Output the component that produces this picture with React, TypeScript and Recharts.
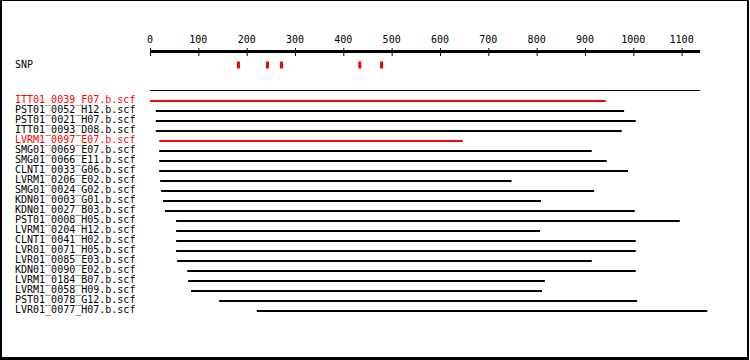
import { ScatterChart, Scatter, BarChart, Bar, Cell, XAxis, YAxis, ReferenceLine } from "recharts";

// sequence position axis
const POSITION_TICKS = [0, 100, 200, 300, 400, 500, 600, 700, 800, 900, 1000, 1100];
const AXIS_MAX = 1138;
const READS_X_MAX = 1160;

// SNP sites along the contig
const SNP_POSITIONS = [183, 243, 272, 434, 479];

// reads in the alignment
const READ_NAMES = [
  "ITT01_0039_F07.b.scf",
  "PST01_0052_H12.b.scf",
  "PST01_0021_H07.b.scf",
  "ITT01_0093_D08.b.scf",
  "LVRM1_0097_E07.b.scf",
  "SMG01_0069_E07.b.scf",
  "SMG01_0066_E11.b.scf",
  "CLNT1_0033_G06.b.scf",
  "LVRM1_0206_E02.b.scf",
  "SMG01_0024_G02.b.scf",
  "KDN01_0003_G01.b.scf",
  "KDN01_0027_B03.b.scf",
  "PST01_0008_H05.b.scf",
  "LVRM1_0204_H12.b.scf",
  "CLNT1_0041_H02.b.scf",
  "LVR01_0071_H05.b.scf",
  "LVR01_0085_E03.b.scf",
  "KDN01_0090_E02.b.scf",
  "LVRM1_0184_B07.b.scf",
  "LVRM1_0058_H09.b.scf",
  "PST01_0078_G12.b.scf",
  "LVR01_0077_H07.b.scf",
];
const READ_STARTS = [0, 12, 12, 12, 19, 19, 19, 19, 21, 23, 27, 31, 54, 54, 54, 54, 56, 77, 79, 85, 143, 221];
const READ_ENDS = [943, 981, 1005, 976, 647, 914, 945, 989, 748, 919, 809, 1003, 1096, 807, 1005, 1005, 914, 1005, 817, 811, 1008, 1153];
const HIGHLIGHTED_READS = ["ITT01_0039_F07.b.scf", "LVRM1_0097_E07.b.scf"];

const FONT = "'DejaVu Sans Mono', monospace";
const RED = "#ff0000";
const LABEL_X = 15;
const PLOT_LEFT = 150;
const PLOT_RIGHT = 700;
const PX_PER_UNIT = (PLOT_RIGHT - PLOT_LEFT) / AXIS_MAX;
const readsRight = PLOT_LEFT + READS_X_MAX * PX_PER_UNIT;

const snpData = SNP_POSITIONS.map((pos) => ({ pos, track: 13.5 }));
const readRows = READ_NAMES.map((name, i) => ({
  name,
  span: [READ_STARTS[i], READ_ENDS[i]],
  highlighted: HIGHLIGHTED_READS.includes(name),
}));

function PositionTick(props: any) {
  const { x, y, payload } = props;
  return (
    <g>
      <line x1={x + 0.5} x2={x + 0.5} y1={y - 3.5} y2={y + 4.5} stroke="#000" strokeWidth={1} />
      <text x={x} y={y - 8.5} textAnchor="middle" fontFamily={FONT} fontSize={10} fill="#000">
        {payload.value}
      </text>
    </g>
  );
}

function SnpLabel(props: any) {
  return (
    <text x={LABEL_X} y={props.y} dy={3} fontFamily={FONT} fontSize={10} fill="#000">
      SNP
    </text>
  );
}

function SnpMark(props: any) {
  const { cx, cy } = props;
  return <rect x={cx - 1.5} y={cy - 3.5} width={3} height={7} fill={RED} />;
}

function ReadLabel(props: any) {
  const { y, payload } = props;
  const hl = HIGHLIGHTED_READS.includes(payload.value);
  return (
    <text x={LABEL_X} y={Math.round(y) + 2} fontFamily={FONT} fontSize={10} fill={hl ? RED : "#000"}>
      {payload.value}
    </text>
  );
}

export default function App() {
  return (
    <div
      style={{
        position: "absolute",
        left: 0,
        top: 0,
        width: 749,
        height: 360,
        boxSizing: "border-box",
        borderStyle: "solid",
        borderColor: "#000",
        borderWidth: "1px 2px 3px 2px",
        background: "#fff",
      }}
    >
      <div style={{ position: "absolute", left: -2, top: -1 }}>
        <ScatterChart width={750} height={92} margin={{ top: 21.5, right: 750 - PLOT_RIGHT, bottom: 0.5, left: 0 }}>
          <XAxis
            type="number"
            dataKey="pos"
            orientation="top"
            domain={[0, AXIS_MAX]}
            ticks={POSITION_TICKS}
            interval={0}
            height={30}
            axisLine={{ stroke: "#000", strokeWidth: 3 }}
            tickLine={false}
            tickSize={0}
            tickMargin={0}
            tick={PositionTick}
          />
          <YAxis
            type="number"
            dataKey="track"
            domain={[0, 40]}
            reversed
            width={PLOT_LEFT}
            ticks={[13.5]}
            axisLine={false}
            tickLine={false}
            tick={SnpLabel}
          />
          <ReferenceLine y={39} stroke="#000" strokeWidth={1} />
          <Scatter data={snpData} fill={RED} shape={SnpMark} isAnimationActive={false} />
        </ScatterChart>
      </div>
      <div style={{ position: "absolute", left: -2, top: -1 }}>
        <BarChart
          layout="vertical"
          width={750}
          height={330}
          data={readRows}
          barSize={2}
          margin={{ top: 96, right: 750 - readsRight, bottom: 14, left: 0 }}
        >
          <XAxis type="number" domain={[0, READS_X_MAX]} hide />
          <YAxis
            type="category"
            dataKey="name"
            width={PLOT_LEFT}
            axisLine={false}
            tickLine={false}
            interval={0}
            tick={ReadLabel}
          />
          <Bar dataKey="span" isAnimationActive={false}>
            {readRows.map((r) => (
              <Cell key={r.name} fill={r.highlighted ? RED : "#000"} />
            ))}
          </Bar>
        </BarChart>
      </div>
    </div>
  );
}
